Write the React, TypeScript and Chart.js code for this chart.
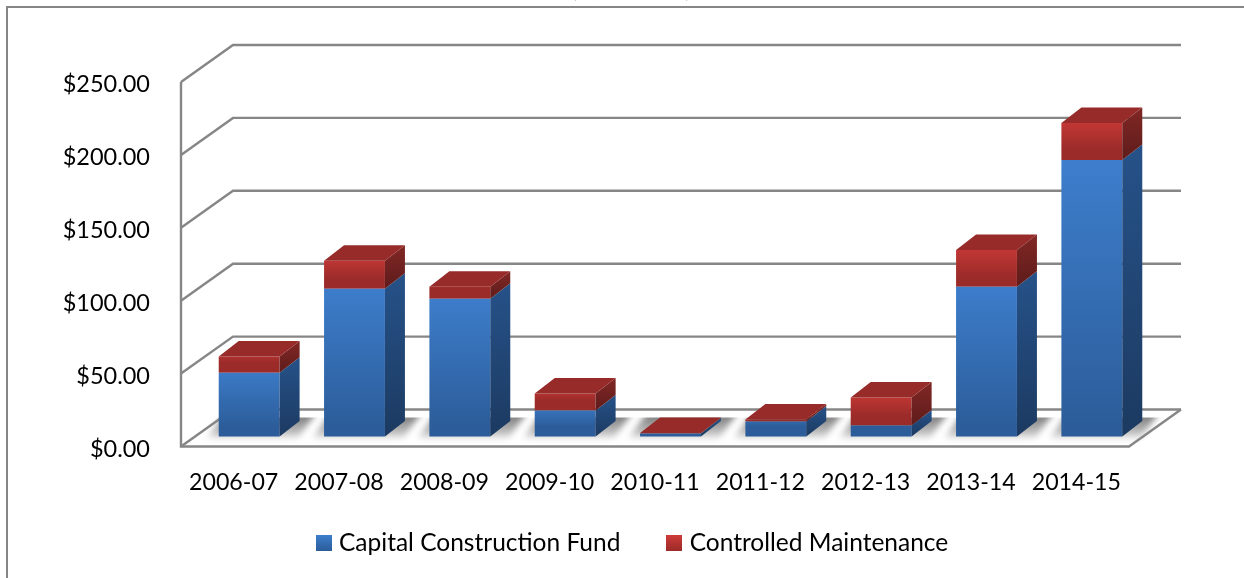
import React, { useEffect, useRef } from "react";
import { Chart, registerables } from "chart.js";

Chart.register(...registerables);

const categories = ["2006-07", "2007-08", "2008-09", "2009-10", "2010-11", "2011-12", "2012-13", "2013-14", "2014-15"];
const capitalConstruction = [43.8, 101.4, 94.5, 17.8, 2, 10.3, 7.5, 102.7, 189.7];
const controlledMaintenance = [11, 19.1, 8.2, 11.7, 0.4, 1.3, 19.2, 25.3, 25.3];
const seriesNames = ["Capital Construction Fund", "Controlled Maintenance"];
const titleText = "(in, Millions)";

const FONT = "Lato";
const GRID = "#868686";
const WALL_DX = 52;
const WALL_DY = 37;
const BAR_SHIFT_X = 15.5;
const BAR_SHIFT_Y = -10;
const DEPTH_X = 20;
const DEPTH_Y = 15.5;
const LEGEND_SHIFT_X = 70;
const LEGEND_SHIFT_Y = -13;

const palette = [
  { front: ["#3e7fce", "#2c5d9a"], side: ["#265289", "#1c3a61"], top: "#2f69ad" },
  { front: ["#d03c39", "#9b2b29"], side: ["#812725", "#5e1c1b"], top: "#962b29" },
];

function frontGradient(chart: any, ctx: any, series: number) {
  const c = chart.ctx;
  const y = chart.scales.y;
  const i = ctx.dataIndex;
  if (!y || i === undefined) return palette[series].front[0];
  const lo = series === 0 ? 0 : capitalConstruction[i];
  const hi = series === 0 ? capitalConstruction[i] : capitalConstruction[i] + controlledMaintenance[i];
  const g = c.createLinearGradient(0, y.getPixelForValue(hi) + BAR_SHIFT_Y, 0, y.getPixelForValue(lo) + BAR_SHIFT_Y);
  g.addColorStop(0, palette[series].front[0]);
  g.addColorStop(1, palette[series].front[1]);
  return g;
}

function swatch(series: number) {
  const s = document.createElement("canvas");
  s.width = 16;
  s.height = 16;
  const c = s.getContext("2d")!;
  const g = c.createLinearGradient(0, 0, 0, 16);
  g.addColorStop(0, palette[series].front[0]);
  g.addColorStop(1, palette[series].front[1]);
  c.fillStyle = g;
  c.fillRect(0, 0, 16, 16);
  return s;
}

const scene = {
  id: "scene",
  afterLayout(chart: any) {
    const l = chart.legend;
    if (l) {
      l.left += LEGEND_SHIFT_X;
      l.right += LEGEND_SHIFT_X;
      l.top += LEGEND_SHIFT_Y;
      l.bottom += LEGEND_SHIFT_Y;
    }
  },
  beforeDraw(chart: any) {
    const c = chart.ctx;
    c.save();
    c.fillStyle = "#ffffff";
    c.fillRect(0, 0, chart.width, chart.height);
    c.fillStyle = "#000000";
    c.font = `23px ${FONT}`;
    c.textAlign = "center";
    c.textBaseline = "alphabetic";
    c.fillText(titleText, 631, -3);
    c.strokeStyle = GRID;
    c.lineWidth = 2;
    c.beginPath();
    c.moveTo(7, chart.height);
    c.lineTo(7, 7);
    c.lineTo(chart.width, 7);
    c.stroke();
    c.restore();
  },
  beforeDatasetsDraw(chart: any) {
    const c = chart.ctx;
    const { left, right, bottom } = chart.chartArea;
    const y = chart.scales.y;
    c.save();
    c.strokeStyle = GRID;
    c.lineWidth = 2.4;
    c.lineJoin = "miter";
    c.lineCap = "butt";
    for (const t of y.ticks) {
      const py = y.getPixelForValue(t.value);
      c.beginPath();
      c.moveTo(left, py);
      c.lineTo(left + WALL_DX, py - WALL_DY);
      c.lineTo(right + WALL_DX, py - WALL_DY);
      c.stroke();
    }
    c.save();
    c.beginPath();
    c.rect(left, bottom - WALL_DY + 8, right - left + WALL_DX, WALL_DY - 6);
    c.clip();
    c.filter = "blur(3px)";
    const meta = chart.getDatasetMeta(0);
    const base = y.getPixelForValue(0) + BAR_SHIFT_Y;
    const grad = c.createLinearGradient(0, base - 20, 0, base + 4);
    grad.addColorStop(0, "rgba(110,110,110,0.9)");
    grad.addColorStop(0.65, "rgba(160,160,160,0.7)");
    grad.addColorStop(1, "rgba(220,220,220,0.3)");
    c.fillStyle = grad;
    for (const bar of meta.data) {
      const x0 = bar.x - bar.width / 2 + BAR_SHIFT_X;
      const x1 = bar.x + bar.width / 2 + BAR_SHIFT_X;
      c.beginPath();
      c.moveTo(x0 - 12, base + 2);
      c.lineTo(x1 + 18, base + 2);
      c.lineTo(x1 + 37, base - 24);
      c.lineTo(x0 + 7, base - 24);
      c.closePath();
      c.fill();
    }
    c.restore();
    c.restore();
  },
  beforeDatasetDraw(chart: any) {
    chart.ctx.save();
    chart.ctx.translate(BAR_SHIFT_X, BAR_SHIFT_Y);
  },
  afterDatasetDraw(chart: any) {
    chart.ctx.restore();
  },
  afterDatasetsDraw(chart: any) {
    const c = chart.ctx;
    const last = chart.data.datasets.length - 1;
    c.save();
    c.translate(BAR_SHIFT_X, BAR_SHIFT_Y);
    chart.data.datasets.forEach((_: any, s: number) => {
      const meta = chart.getDatasetMeta(s);
      meta.data.forEach((bar: any) => {
        const l = bar.x - bar.width / 2;
        const r = bar.x + bar.width / 2;
        const t = bar.y;
        const b = bar.base;
        const g = c.createLinearGradient(0, t - DEPTH_Y, 0, b);
        g.addColorStop(0, palette[s].side[0]);
        g.addColorStop(1, palette[s].side[1]);
        c.fillStyle = g;
        c.beginPath();
        c.moveTo(r, t);
        c.lineTo(r + DEPTH_X, t - DEPTH_Y);
        c.lineTo(r + DEPTH_X, b - DEPTH_Y);
        c.lineTo(r, b);
        c.closePath();
        c.fill();
        if (s === last) {
          c.fillStyle = palette[s].top;
          c.beginPath();
          c.moveTo(l, t);
          c.lineTo(l + DEPTH_X, t - DEPTH_Y);
          c.lineTo(r + DEPTH_X, t - DEPTH_Y);
          c.lineTo(r, t);
          c.closePath();
          c.fill();
        }
      });
    });
    c.restore();
  },
  afterDraw(chart: any) {
    const c = chart.ctx;
    const { left, right, top, bottom } = chart.chartArea;
    c.save();
    c.strokeStyle = GRID;
    c.lineWidth = 2.4;
    c.lineJoin = "miter";
    c.beginPath();
    c.moveTo(left, top);
    c.lineTo(left, bottom);
    c.lineTo(right, bottom);
    c.lineTo(right + WALL_DX, bottom - WALL_DY);
    c.stroke();
    c.restore();
  },
};

export default function App() {
  const ref = useRef<HTMLCanvasElement>(null);
  useEffect(() => {
    const chart = new Chart(ref.current!, {
      type: "bar",
      data: {
        labels: categories,
        datasets: [
          {
            label: seriesNames[0],
            data: capitalConstruction,
            backgroundColor: (ctx: any) => frontGradient(ctx.chart, ctx, 0),
            barPercentage: 0.578,
            categoryPercentage: 1,
            clip: false,
          },
          {
            label: seriesNames[1],
            data: controlledMaintenance,
            backgroundColor: (ctx: any) => frontGradient(ctx.chart, ctx, 1),
            barPercentage: 0.578,
            categoryPercentage: 1,
            clip: false,
          },
        ] as any,
      },
      options: {
        animation: false,
        responsive: false,
        maintainAspectRatio: false,
        layout: { padding: { top: 82, left: 0, right: 115, bottom: 0 } },
        scales: {
          x: {
            stacked: true,
            grid: { display: false },
            border: { display: false },
            ticks: { color: "#000000", font: { family: FONT, size: 23.2 }, padding: 14, maxRotation: 0, autoSkip: false },
            afterFit: (s: any) => { s.height = 46; },
          },
          y: {
            stacked: true,
            min: 0,
            max: 250,
            grid: { display: false },
            border: { display: false },
            ticks: {
              stepSize: 50,
              color: "#000000",
              font: { family: FONT, size: 23.5 },
              padding: 23,
              labelOffset: 2.5,
              callback: (v: any) => "$" + Number(v).toFixed(2),
            },
            afterFit: (s: any) => { s.width = 181; },
          },
        },
        plugins: {
          tooltip: { enabled: false },
          title: { display: false },
          legend: {
            position: "bottom",
            labels: {
              color: "#000000",
              font: { family: FONT, size: 24.5 },
              usePointStyle: true,
              pointStyleWidth: 6,
              padding: 51,
              generateLabels: () =>
                seriesNames.map((n, i) => ({
                  text: n,
                  pointStyle: swatch(i),
                  fillStyle: palette[i].front[0],
                  strokeStyle: "transparent",
                  lineWidth: 0,
                  hidden: false,
                  datasetIndex: i,
                })) as any,
            },
          },
        },
      },
      plugins: [scene],
    } as any);
    return () => chart.destroy();
  }, []);
  return (
    <div style={{ position: "fixed", left: 0, top: 0, width: 1244, height: 578 }}>
      <canvas ref={ref} width={1244} height={578} style={{ display: "block", width: 1244, height: 578 }} />
    </div>
  );
}
